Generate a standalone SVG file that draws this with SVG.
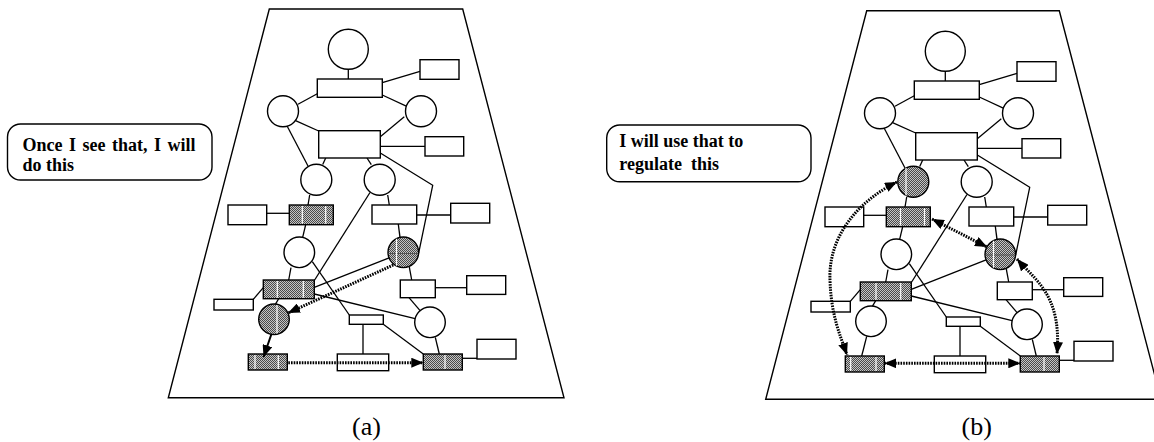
<svg xmlns="http://www.w3.org/2000/svg" width="1154" height="442" viewBox="0 0 1154 442">
  <defs>
    <style>
      .frame { fill: none; stroke: #000; stroke-width: 1.4; }
      .n { fill: #fff; stroke: #000; stroke-width: 1.4; }
      .s { fill: url(#dots); stroke: #000; stroke-width: 1.4; }
      .wl { stroke: #fff; stroke-width: 1.2; }
      .dl { stroke: #555; stroke-width: 1; }
      .ln { fill: none; stroke: #000; stroke-width: 1.3; }
      .dot { fill: none; stroke: #000; stroke-width: 3; stroke-dasharray: 1.6 1.1; }
      .solid-arrow { fill: none; stroke: #000; stroke-width: 2; }
      .bubble { fill: #fff; stroke: #000; stroke-width: 1.4; }
      .say { font-family: "Liberation Serif", "Times New Roman", serif; font-weight: bold; font-size: 18px; fill: #000; }
      .cap { font-family: "Liberation Serif", "Times New Roman", serif; font-size: 26px; fill: #000; text-anchor: middle; }
    </style>
    <pattern id="dots" width="2" height="2" patternUnits="userSpaceOnUse">
      <rect width="2" height="2" fill="#c4c4c4"/>
      <rect width="1" height="1" fill="#4a4a4a"/>
      <rect x="1" y="1" width="1" height="1" fill="#4a4a4a"/>
    </pattern>
    <marker id="head" viewBox="0 0 12 10" refX="12" refY="5" markerWidth="12" markerHeight="10" markerUnits="userSpaceOnUse" orient="auto-start-reverse">
      <path d="M0,0 L12,5 L0,10 z" fill="#000"/>
    </marker>
  </defs>

  <rect width="1154" height="442" fill="#fff"/>

  <!-- speech bubbles -->
  <g id="bubble-a">
    <rect class="bubble" x="7.5" y="124" width="204.5" height="56" rx="13"/>
    <text class="say" x="22.5" y="150.5" word-spacing="2">Once I see that, I will</text>
    <text class="say" x="22.5" y="170.5">do this</text>
  </g>
  <g id="bubble-b">
    <rect class="bubble" x="606.7" y="125" width="204.3" height="56.7" rx="13"/>
    <text class="say" x="619.3" y="146.7">I will use that to</text>
    <text class="say" x="619.3" y="170" xml:space="preserve">regulate  this</text>
  </g>

  <!-- ===== panel (a) ===== -->
  <polygon id="frame-a" class="frame" points="269.3,9 462.7,9 564,397.7 168.3,397.7"/>

  <g id="connectors-a" class="ln">
    <line x1="348.3" y1="69.3" x2="348.3" y2="79"/>
    <line x1="382.3" y1="82.7" x2="420" y2="71.3"/>
    <line x1="298" y1="104.3" x2="317.3" y2="93.7"/>
    <line x1="382.3" y1="95" x2="407.3" y2="106.7"/>
    <line x1="295" y1="120.3" x2="318.7" y2="131"/>
    <line x1="404.3" y1="116.7" x2="380.3" y2="136.7"/>
    <line x1="380.3" y1="146.3" x2="425" y2="146.3"/>
    <line x1="286.7" y1="125.3" x2="308" y2="166"/>
    <line x1="325.7" y1="158" x2="322.7" y2="164.6"/>
    <line x1="367" y1="158" x2="371.3" y2="164.7"/>
    <polyline points="380.3,153 432.7,185.3 418.6,253.3"/>
    <line x1="266.7" y1="213.3" x2="289.3" y2="213.3"/>
    <line x1="309.7" y1="195" x2="308" y2="205"/>
    <line x1="387.7" y1="195" x2="389.3" y2="205"/>
    <line x1="416.7" y1="215" x2="450.7" y2="215"/>
    <line x1="370" y1="192.5" x2="314" y2="281"/>
    <line x1="305.7" y1="224.7" x2="302.7" y2="237.1"/>
    <line x1="398.3" y1="224" x2="400" y2="237.4"/>
    <line x1="291" y1="267.7" x2="288.7" y2="280"/>
    <line x1="409.3" y1="266.8" x2="411.7" y2="280"/>
    <line x1="435.3" y1="287.7" x2="466.7" y2="287.7"/>
    <line x1="314.3" y1="287.3" x2="389.1" y2="257.9"/>
    <line x1="253.3" y1="299.3" x2="263.3" y2="287.7"/>
    <line x1="278.7" y1="298.7" x2="275.5" y2="304.1"/>
    <line x1="314.3" y1="294" x2="415.1" y2="318.7"/>
    <line x1="312.3" y1="261.7" x2="349.3" y2="315"/>
    <line x1="409" y1="297.7" x2="420.1" y2="310.7"/>
    <line x1="435.3" y1="337.3" x2="439.3" y2="354"/>
    <line x1="383.3" y1="324.3" x2="423.3" y2="354"/>
    <line x1="363" y1="324.3" x2="363" y2="354"/>
    <line x1="462.3" y1="358.3" x2="477" y2="358.3"/>
  </g>

  <g id="a-c-top"><circle class="n" cx="348.3" cy="49.3" r="20"/></g>
  <g id="a-r-top"><rect class="n" x="317.3" y="79" width="65" height="18.3"/></g>
  <g id="a-r-top-side"><rect class="n" x="420" y="59.7" width="39" height="19.6"/></g>
  <g id="a-c-l1"><circle class="n" cx="283" cy="111.3" r="15.5"/></g>
  <g id="a-c-r1"><circle class="n" cx="421" cy="111.3" r="15.5"/></g>
  <g id="a-r-mid"><rect class="n" x="318.7" y="130.7" width="61.6" height="27.3"/></g>
  <g id="a-r-mid-side"><rect class="n" x="425" y="136.7" width="38.7" height="19.3"/></g>
  <g id="a-c-l2"><circle class="n" cx="316.3" cy="179.7" r="15.5"/></g>
  <g id="a-c-r2"><circle class="n" cx="379.7" cy="179.7" r="15.5"/></g>
  <g id="a-r-a"><rect class="n" x="228" y="205" width="38.7" height="19.7"/></g>
  <g id="a-r-b">
    <rect class="s" x="289.3" y="205" width="44" height="19.7"/>
    <line class="wl" x1="302.3" y1="206" x2="302.3" y2="223.7"/>
    <line class="wl" x1="325.7" y1="206" x2="325.7" y2="223.7"/>
  </g>
  <g id="a-r-c"><rect class="n" x="372" y="205" width="44.7" height="19"/></g>
  <g id="a-r-d"><rect class="n" x="450.7" y="203.3" width="39" height="19.7"/></g>
  <g id="a-c-l3"><circle class="n" cx="299.3" cy="252.3" r="15.3"/></g>
  <g id="a-c-r3">
    <circle class="s" cx="403.3" cy="252.3" r="15.3"/>
    <line class="dl" x1="388.5" y1="253.5" x2="418.1" y2="253.5"/>
    <line class="wl" x1="396.5" y1="238.8" x2="396.5" y2="265.8"/>
  </g>
  <g id="a-r-e">
    <rect class="s" x="263.3" y="280" width="51" height="18.7"/>
    <line class="wl" x1="277.3" y1="281" x2="277.3" y2="297.7"/>
    <line class="wl" x1="303.3" y1="281" x2="303.3" y2="297.7"/>
  </g>
  <g id="a-r-f"><rect class="n" x="400.3" y="280" width="35" height="17.7"/></g>
  <g id="a-r-g"><rect class="n" x="466.7" y="275.7" width="39" height="18.7"/></g>
  <g id="a-r-h"><rect class="n" x="214" y="299.3" width="39.3" height="10.7"/></g>
  <g id="a-c-l4">
    <circle class="s" cx="274" cy="319.3" r="15.3"/>
    <line class="wl" x1="277" y1="305" x2="277" y2="333.6"/>
  </g>
  <g id="a-r-i"><rect class="n" x="349.3" y="315" width="34" height="9.3"/></g>
  <g id="a-c-r4"><circle class="n" cx="430" cy="322.3" r="15.3"/></g>
  <g id="a-r-j">
    <rect class="s" x="248.3" y="354" width="39" height="16"/>
    <line class="wl" x1="255" y1="355" x2="255" y2="369"/>
    <line class="wl" x1="278.3" y1="355" x2="278.3" y2="369"/>
  </g>
  <g id="a-r-k"><rect class="n" x="337.3" y="354" width="51.4" height="16.7"/></g>
  <g id="a-r-l">
    <rect class="s" x="423.3" y="354" width="39" height="16"/>
    <line class="wl" x1="445" y1="355" x2="445" y2="369"/>
  </g>
  <g id="a-r-m"><rect class="n" x="477" y="339.3" width="39" height="19.7"/></g>

  <g id="arrows-a">
    <line class="solid-arrow" x1="271.3" y1="334.5" x2="263.5" y2="357" marker-end="url(#head)"/>
    <line class="dot" x1="393.3" y1="265" x2="288" y2="313" marker-end="url(#head)"/>
    <line class="dot" x1="288.3" y1="362.7" x2="423.3" y2="362.7" marker-end="url(#head)"/>
  </g>

  <text id="label-a" class="cap" x="366.5" y="435">(a)</text>

  <!-- ===== panel (b) ===== -->
  <polygon id="frame-b" class="frame" points="866.7,10.7 1059.3,10.7 1161,399.3 765.7,399.3"/>

  <!-- whole-pixel offset keeps the 2px dot pattern crisp -->
  <g transform="translate(597,2)">
    <g id="connectors-b" class="ln">
      <line x1="348.3" y1="69.3" x2="348.3" y2="79"/>
      <line x1="382.3" y1="82.7" x2="420" y2="71.3"/>
      <line x1="298" y1="104.3" x2="317.3" y2="93.7"/>
      <line x1="382.3" y1="95" x2="407.3" y2="106.7"/>
      <line x1="295" y1="120.3" x2="318.7" y2="131"/>
      <line x1="404.3" y1="116.7" x2="380.3" y2="136.7"/>
      <line x1="380.3" y1="146.3" x2="425" y2="146.3"/>
      <line x1="286.7" y1="125.3" x2="308" y2="166"/>
      <line x1="325.7" y1="158" x2="322.7" y2="164.6"/>
      <line x1="367" y1="158" x2="371.3" y2="164.7"/>
      <polyline points="380.3,153 432.7,185.3 418.6,253.3"/>
      <line x1="266.7" y1="213.3" x2="289.3" y2="213.3"/>
      <line x1="309.7" y1="195" x2="308" y2="205"/>
      <line x1="387.7" y1="195" x2="389.3" y2="205"/>
      <line x1="416.7" y1="215" x2="450.7" y2="215"/>
      <line x1="370" y1="192.5" x2="314" y2="281"/>
      <line x1="305.7" y1="224.7" x2="302.7" y2="237.1"/>
      <line x1="398.3" y1="224" x2="400" y2="237.4"/>
      <line x1="291" y1="267.7" x2="288.7" y2="280"/>
      <line x1="409.3" y1="266.8" x2="411.7" y2="280"/>
      <line x1="435.3" y1="287.7" x2="466.7" y2="287.7"/>
      <line x1="314.3" y1="287.3" x2="389.1" y2="257.9"/>
      <line x1="253.3" y1="299.3" x2="263.3" y2="287.7"/>
      <line x1="278.7" y1="298.7" x2="275.5" y2="304.1"/>
      <line x1="314.3" y1="294" x2="415.1" y2="318.7"/>
      <line x1="312.3" y1="261.7" x2="349.3" y2="315"/>
      <line x1="409" y1="297.7" x2="420.1" y2="310.7"/>
      <line x1="435.3" y1="337.3" x2="439.3" y2="354"/>
      <line x1="383.3" y1="324.3" x2="423.3" y2="354"/>
      <line x1="363" y1="324.3" x2="363" y2="354"/>
      <line x1="462.3" y1="358.3" x2="477" y2="358.3"/>
      <line x1="269.7" y1="334.3" x2="264.7" y2="354"/>
    </g>

    <g id="b-c-top"><circle class="n" cx="348.3" cy="49.3" r="20"/></g>
    <g id="b-r-top"><rect class="n" x="317.3" y="79" width="65" height="18.3"/></g>
    <g id="b-r-top-side"><rect class="n" x="420" y="59.7" width="39" height="19.6"/></g>
    <g id="b-c-l1"><circle class="n" cx="283" cy="111.3" r="15.5"/></g>
    <g id="b-c-r1"><circle class="n" cx="421" cy="111.3" r="15.5"/></g>
    <g id="b-r-mid"><rect class="n" x="318.7" y="130.7" width="61.6" height="27.3"/></g>
    <g id="b-r-mid-side"><rect class="n" x="425" y="136.7" width="38.7" height="19.3"/></g>
    <g id="b-c-l2">
      <circle class="s" cx="316.3" cy="179.7" r="15.5"/>
      <line class="wl" x1="309" y1="166" x2="309" y2="193.4"/>
    </g>
    <g id="b-c-r2"><circle class="n" cx="379.7" cy="179.7" r="15.5"/></g>
    <g id="b-r-a"><rect class="n" x="228" y="205" width="38.7" height="19.7"/></g>
    <g id="b-r-b">
      <rect class="s" x="289.3" y="205" width="44" height="19.7"/>
      <line class="wl" x1="303.5" y1="206" x2="303.5" y2="223.7"/>
      <line class="wl" x1="327.5" y1="206" x2="327.5" y2="223.7"/>
    </g>
    <g id="b-r-c"><rect class="n" x="372" y="205" width="44.7" height="19"/></g>
    <g id="b-r-d"><rect class="n" x="450.7" y="203.3" width="39" height="19.7"/></g>
    <g id="b-c-l3"><circle class="n" cx="299.3" cy="252.3" r="15.3"/></g>
    <g id="b-c-r3">
      <circle class="s" cx="403.3" cy="252.3" r="15.3"/>
      <line class="dl" x1="388.5" y1="253" x2="418.1" y2="253"/>
      <line class="wl" x1="396.5" y1="238.8" x2="396.5" y2="265.8"/>
    </g>
    <g id="b-r-e">
      <rect class="s" x="263.3" y="280" width="51" height="18.7"/>
      <line class="wl" x1="279" y1="281" x2="279" y2="297.7"/>
      <line class="wl" x1="303.7" y1="281" x2="303.7" y2="297.7"/>
    </g>
    <g id="b-r-f"><rect class="n" x="400.3" y="280" width="35" height="17.7"/></g>
    <g id="b-r-g"><rect class="n" x="466.7" y="275.7" width="39" height="18.7"/></g>
    <g id="b-r-h"><rect class="n" x="214" y="299.3" width="39.3" height="10.7"/></g>
    <g id="b-c-l4"><circle class="n" cx="274" cy="319.3" r="15.3"/></g>
    <g id="b-r-i"><rect class="n" x="349.3" y="315" width="34" height="9.3"/></g>
    <g id="b-c-r4"><circle class="n" cx="430" cy="322.3" r="15.3"/></g>
    <g id="b-r-j">
      <rect class="s" x="248.3" y="354" width="39" height="16"/>
      <line class="wl" x1="253.7" y1="355" x2="253.7" y2="369"/>
      <line class="wl" x1="279" y1="355" x2="279" y2="369"/>
    </g>
    <g id="b-r-k"><rect class="n" x="337.3" y="354" width="51.4" height="16.7"/></g>
    <g id="b-r-l">
      <rect class="s" x="423.3" y="354" width="39" height="16"/>
      <line class="wl" x1="447" y1="355" x2="447" y2="369"/>
    </g>
    <g id="b-r-m"><rect class="n" x="477" y="339.3" width="39" height="19.7"/></g>
  </g>

  <g id="arrows-b">
    <path class="dot" d="M897,182 C860,200 828,235 830,280 C831,315 840,335 847,355" marker-start="url(#head)" marker-end="url(#head)"/>
    <line class="dot" x1="932" y1="219" x2="987" y2="247" marker-start="url(#head)" marker-end="url(#head)"/>
    <path class="dot" d="M1017,259 C1035,280 1062,295 1057,354" marker-start="url(#head)" marker-end="url(#head)"/>
    <line class="dot" x1="884.3" y1="363.3" x2="1020.3" y2="363.3" marker-start="url(#head)" marker-end="url(#head)"/>
  </g>

  <text id="label-b" class="cap" x="976.7" y="434.5">(b)</text>
</svg>
